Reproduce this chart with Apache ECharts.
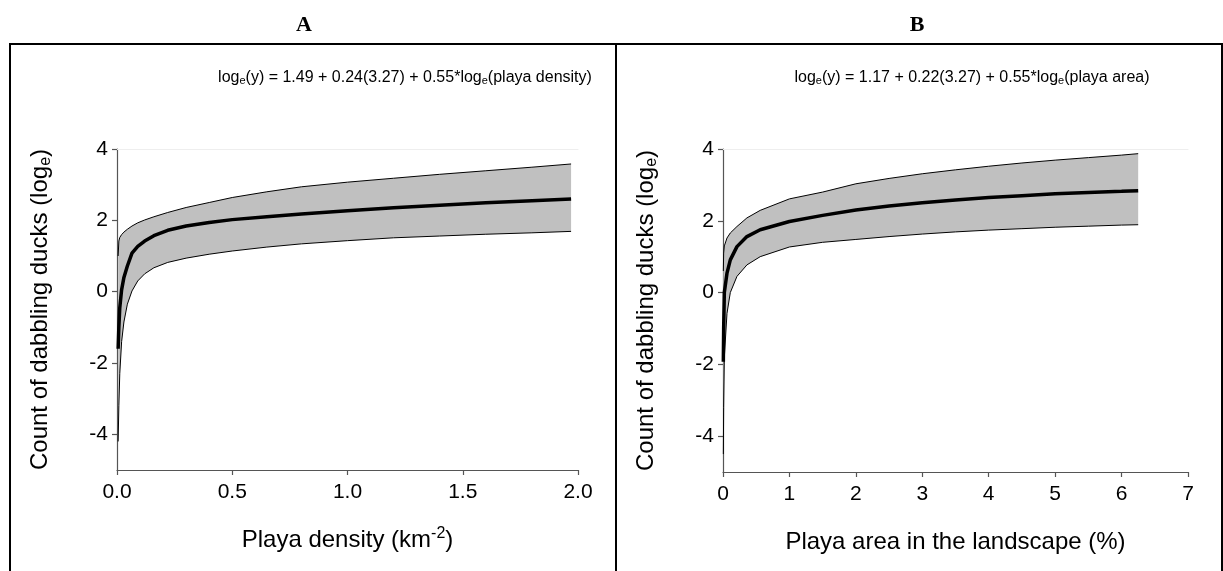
<!DOCTYPE html>
<html><head><meta charset="utf-8">
<script src="https://cdn.jsdelivr.net/npm/echarts@6/dist/echarts.min.js"></script>
<style>html,body{margin:0;padding:0;background:#fff}#c{width:1223px;height:571px}</style>
</head><body><div id="c"></div>
<script>
// ---- Panel A data (playa density, km^-2) ----
const xA     = [0.005, 0.008, 0.012, 0.02, 0.03, 0.045, 0.065, 0.09, 0.12, 0.16, 0.22, 0.3, 0.4, 0.5, 0.65, 0.8, 1.0, 1.2, 1.4, 1.6, 1.8, 1.97];
const meanA  = [-1.6, -1.0, -0.45, 0.05, 0.4, 0.72, 1.08, 1.27, 1.42, 1.57, 1.72, 1.84, 1.94, 2.02, 2.1, 2.18, 2.27, 2.35, 2.42, 2.49, 2.55, 2.6];
const upperA = [1.0, 1.42, 1.52, 1.6, 1.67, 1.75, 1.84, 1.93, 2.01, 2.1, 2.22, 2.36, 2.5, 2.64, 2.8, 2.94, 3.07, 3.18, 3.29, 3.39, 3.49, 3.58];
const lowerA = [-4.2, -3.2, -2.3, -1.4, -0.85, -0.35, 0.02, 0.3, 0.5, 0.67, 0.82, 0.94, 1.05, 1.14, 1.25, 1.34, 1.43, 1.51, 1.56, 1.61, 1.65, 1.69];

// ---- Panel B data (playa area, %) ----
const xB     = [0.005, 0.01, 0.02, 0.06, 0.11, 0.21, 0.36, 0.56, 1.0, 1.5, 2.0, 2.5, 3.0, 3.5, 4.0, 4.5, 5.0, 5.5, 6.0, 6.25];
const meanB  = [-1.93, -1.0, 0.0, 0.54, 0.91, 1.28, 1.56, 1.75, 1.98, 2.15, 2.30, 2.41, 2.50, 2.58, 2.65, 2.70, 2.75, 2.79, 2.82, 2.84];
const upperB = [0.6, 1.1, 1.3, 1.52, 1.66, 1.84, 2.08, 2.29, 2.61, 2.80, 3.03, 3.18, 3.31, 3.42, 3.52, 3.61, 3.69, 3.76, 3.83, 3.87];
const lowerB = [-4.5, -3.2, -1.8, -0.58, 0.0, 0.45, 0.77, 1.0, 1.27, 1.40, 1.48, 1.56, 1.63, 1.69, 1.74, 1.78, 1.82, 1.85, 1.88, 1.89];

// ---- Axis ticks / labels ----
const yTicks = [-4, -2, 0, 2, 4];
const xTickLabelsA = ['0.0', '0.5', '1.0', '1.5', '2.0'];
const xTickLabelsB = ['0', '1', '2', '3', '4', '5', '6', '7'];
const panelTitles = ['A', 'B'];
const equations = [
  'log{sub|e}(y) = 1.49 + 0.24(3.27) + 0.55*log{sub|e}(playa density)',
  'log{sub|e}(y) = 1.17 + 0.22(3.27) + 0.55*log{sub|e}(playa area)'
];
const yName = 'Count of dabbling ducks (log{sub|e})';
const xNames = ['Playa density (km{sup|-2})', 'Playa area in the landscape (%)'];

const FONT = 'Liberation Sans, Arial, sans-serif';
const chart = echarts.init(document.getElementById('c'), null, {renderer: 'canvas'});

const nameRich = {
  sub: {fontSize: 16, fontFamily: FONT, color: '#000', verticalAlign: 'bottom', lineHeight: 12},
  sup: {fontSize: 16, fontFamily: FONT, color: '#000', verticalAlign: 'top', lineHeight: 12}
};

function xAxisCfg(gi, max, interval, labels) {
  return {
    type: 'value', gridIndex: gi, min: 0, max: max, interval: interval,
    name: xNames[gi], nameLocation: 'middle', nameGap: 56,
    nameTextStyle: {fontSize: 24, fontFamily: FONT, color: '#000', lineHeight: 28, rich: nameRich},
    axisLine: {show: true, onZero: false, lineStyle: {color: '#555', width: 1.2}},
    axisTick: {show: true, length: 5, lineStyle: {color: '#555', width: 1.2}},
    axisLabel: {fontSize: 21, fontFamily: FONT, color: '#000', margin: 12,
      formatter: function (v) { const i = Math.round(v / interval); return labels[i] != null ? labels[i] : ''; }},
    splitLine: {show: false}
  };
}
function topAxisCfg(gi, max) {
  return {type: 'value', gridIndex: gi, min: 0, max: max, position: 'top',
    axisLine: {show: true, onZero: false, lineStyle: {color: '#eeeeee', width: 1}},
    axisTick: {show: false}, axisLabel: {show: false}, splitLine: {show: false}};
}
function yAxisCfg(gi) {
  return {
    type: 'value', gridIndex: gi, min: -5, max: 4,
    name: yName, nameLocation: 'middle', nameGap: 63,
    nameTextStyle: {fontSize: 24, fontFamily: FONT, color: '#000', lineHeight: 28, rich: nameRich},
    axisLine: {show: true, lineStyle: {color: '#555', width: 1.2}},
    axisTick: {show: true, length: 5, customValues: yTicks, lineStyle: {color: '#555', width: 1.2}},
    axisLabel: {fontSize: 21, fontFamily: FONT, color: '#000', margin: 9, customValues: yTicks},
    splitLine: {show: false}
  };
}
function band(gi, xs, lo, up) {
  return {
    type: 'custom', xAxisIndex: gi, yAxisIndex: gi, silent: true, z: 1,
    data: xs.map((x, i) => [x, lo[i], up[i]]),
    encode: {x: 0, y: [1, 2]},
    renderItem: function (params, api) {
      if (params.dataIndex !== 0) return null;
      const pts = [];
      for (let i = 0; i < xs.length; i++) pts.push(api.coord([xs[i], up[i]]));
      for (let i = xs.length - 1; i >= 0; i--) pts.push(api.coord([xs[i], lo[i]]));
      return {type: 'polygon', shape: {points: pts}, style: {fill: '#c0c0c0', stroke: null}};
    }
  };
}
function line(gi, xs, ys, w) {
  return {
    type: 'line', xAxisIndex: gi, yAxisIndex: gi, silent: true, z: w > 2 ? 4 : 3,
    data: xs.map((x, i) => [x, ys[i]]), showSymbol: false, symbol: 'none',
    lineStyle: {color: '#000', width: w}, smooth: false, animation: false
  };
}

const eqStyle = {fontSize: 16, fontFamily: FONT, fill: '#000',
  rich: {sub: {fontSize: 11, fontFamily: FONT, fill: '#000', verticalAlign: 'bottom', lineHeight: 10}}};

const option = {
  animation: false,
  backgroundColor: '#fff',
  grid: [
    {left: 117, right: 1223 - 578, top: 149, bottom: 571 - 470, containLabel: false},
    {left: 723, right: 1223 - 1188, top: 149, bottom: 571 - 472, containLabel: false}
  ],
  xAxis: [xAxisCfg(0, 2, 0.5, xTickLabelsA), xAxisCfg(1, 7, 1, xTickLabelsB), topAxisCfg(0, 2), topAxisCfg(1, 7)],
  yAxis: [yAxisCfg(0), yAxisCfg(1)],
  series: [
    band(0, xA, lowerA, upperA),
    line(0, xA, upperA, 1), line(0, xA, lowerA, 1), line(0, xA, meanA, 3.5),
    band(1, xB, lowerB, upperB),
    line(1, xB, upperB, 1), line(1, xB, lowerB, 1), line(1, xB, meanB, 3.5)
  ],
  graphic: [
    {type: 'line', shape: {x1: 9, y1: 44, x2: 1223, y2: 44}, style: {stroke: '#000', lineWidth: 2}},
    {type: 'line', shape: {x1: 10, y1: 43, x2: 10, y2: 571}, style: {stroke: '#000', lineWidth: 2}},
    {type: 'line', shape: {x1: 616, y1: 43, x2: 616, y2: 571}, style: {stroke: '#000', lineWidth: 2}},
    {type: 'line', shape: {x1: 1222, y1: 43, x2: 1222, y2: 571}, style: {stroke: '#000', lineWidth: 2}},
    {type: 'text', x: 304, y: 25, style: {text: panelTitles[0], font: 'bold 22px "Liberation Serif", "Times New Roman", serif', fill: '#000', textAlign: 'center', textVerticalAlign: 'middle'}},
    {type: 'text', x: 917, y: 25, style: {text: panelTitles[1], font: 'bold 22px "Liberation Serif", "Times New Roman", serif', fill: '#000', textAlign: 'center', textVerticalAlign: 'middle'}},
    {type: 'text', x: 405, y: 78, style: Object.assign({text: equations[0], textAlign: 'center', textVerticalAlign: 'middle'}, eqStyle)},
    {type: 'text', x: 972, y: 78, style: Object.assign({text: equations[1], textAlign: 'center', textVerticalAlign: 'middle'}, eqStyle)}
  ]
};
chart.setOption(option);
</script></body></html>
